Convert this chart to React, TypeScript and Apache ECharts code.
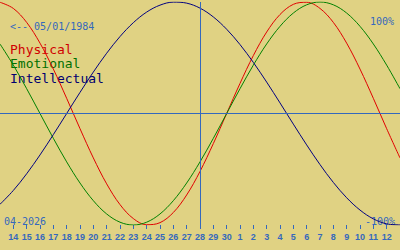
import React, { useEffect, useRef } from "react";
import * as echarts from "echarts";

// Days shown: 13 Apr 2026 .. 13 May 2026 (first/last are off the labelled range)
const days = [
  "13", "14", "15", "16", "17", "18", "19", "20", "21", "22", "23", "24", "25", "26", "27",
  "28", "29", "30", "1", "2", "3", "4", "5", "6", "7", "8", "9", "10", "11", "12", "13",
];
const today = "28";

const physical = [
  0.9977, 0.9423, 0.817, 0.631, 0.3984, 0.1362, -0.1362, -0.3984, -0.631, -0.817, -0.9423,
  -0.9977, -0.9791, -0.8879, -0.7308, -0.5196, -0.2698, 0, 0.2698, 0.5196, 0.7308, 0.8879,
  0.9791, 0.9977, 0.9423, 0.817, 0.631, 0.3984, 0.1362, -0.1362, -0.3984,
];
const emotional = [
  0.6235, 0.4339, 0.2225, 0, -0.2225, -0.4339, -0.6235, -0.7818, -0.901, -0.9749, -1,
  -0.9749, -0.901, -0.7818, -0.6235, -0.4339, -0.2225, 0, 0.2225, 0.4339, 0.6235, 0.7818,
  0.901, 0.9749, 1, 0.9749, 0.901, 0.7818, 0.6235, 0.4339, 0.2225,
];
const intellectual = [
  -0.8146, -0.6901, -0.5406, -0.3717, -0.1893, 0, 0.1893, 0.3717, 0.5406, 0.6901, 0.8146,
  0.9096, 0.9718, 0.9989, 0.9898, 0.945, 0.866, 0.7557, 0.6182, 0.4582, 0.2817, 0.0951,
  -0.0951, -0.2817, -0.4582, -0.6182, -0.7557, -0.866, -0.945, -0.9898, -0.9989,
];

const birthText = "<-- 05/01/1984";
const monthText = "04-2026";
const topText = "100%";
const bottomText = "-100%";
const legendNames = ["Physical", "Emotional", "Intellectual"];

const BG = "#e0d283";
const BLUE = "#3468bd";
const RED = "#e00000";
const GREEN = "#008000";
const NAVY = "#000080";
const MONO = "'DejaVu Sans Mono', 'Liberation Mono', monospace";

export default function App() {
  const ref = useRef<HTMLDivElement>(null);
  useEffect(() => {
    if (!ref.current) return;
    const chart = echarts.init(ref.current, undefined, { renderer: "svg" });
    const last = days.length - 1;
    const line = (name: string, data: number[], color: string, extra: any = {}) => ({
      name,
      type: "line",
      data,
      smooth: 0.35,
      showSymbol: false,
      symbol: "none",
      lineStyle: { color, width: 1 },
      silent: true,
      z: 3,
      ...extra,
    });
    chart.setOption({
      animation: false,
      backgroundColor: BG,
      grid: { left: 0, right: 0, top: 2, bottom: 25 },
      xAxis: {
        type: "category",
        data: days,
        boundaryGap: false,
        axisLine: { show: false, onZero: false },
        axisTick: {
          show: true,
          length: 4,
          interval: (i: number) => i > 0 && i < last,
          lineStyle: { color: BLUE, width: 1 },
        },
        axisLabel: {
          interval: (i: number) => i > 0 && i < last,
          color: BLUE,
          fontSize: 9,
          fontFamily: "'Liberation Sans', Arial, sans-serif",
          fontWeight: "bold",
          margin: 7,
        },
        splitLine: { show: false },
      },
      yAxis: {
        type: "value",
        min: -1,
        max: 1,
        show: false,
      },
      series: [
        line(legendNames[0], physical, RED, {
          markLine: {
            silent: true,
            symbol: "none",
            label: { show: false },
            lineStyle: { color: BLUE, type: "solid", width: 1 },
            data: [{ xAxis: today }, { yAxis: 0 }],
          },
        }),
        line(legendNames[1], emotional, GREEN),
        line(legendNames[2], intellectual, NAVY),
      ],
      graphic: [
        { type: "text", x: 10, y: 21, style: { text: birthText, fill: BLUE, font: `10px ${MONO}`, textBaseline: "alphabetic" } },
        { type: "text", x: 10, y: 43, style: { text: legendNames[0], fill: "#d00000", font: `13px ${MONO}`, textBaseline: "alphabetic" } },
        { type: "text", x: 10, y: 57, style: { text: legendNames[1], fill: "#007000", font: `13px ${MONO}`, textBaseline: "alphabetic" } },
        { type: "text", x: 10, y: 72, style: { text: legendNames[2], fill: "#000070", font: `13px ${MONO}`, textBaseline: "alphabetic" } },
        { type: "text", x: 394, y: 16, style: { text: topText, fill: BLUE, font: `10px ${MONO}`, textAlign: "right", textBaseline: "alphabetic" } },
        { type: "text", x: 395, y: 216, style: { text: bottomText, fill: BLUE, font: `10px ${MONO}`, textAlign: "right", textBaseline: "alphabetic" } },
        { type: "text", x: 4, y: 216, style: { text: monthText, fill: BLUE, font: `10px ${MONO}`, textBaseline: "alphabetic" } },
      ],
    });
    return () => chart.dispose();
  }, []);
  return (
    <div
      ref={ref}
      style={{ position: "fixed", left: 0, top: 0, width: 400, height: 250 }}
    />
  );
}
